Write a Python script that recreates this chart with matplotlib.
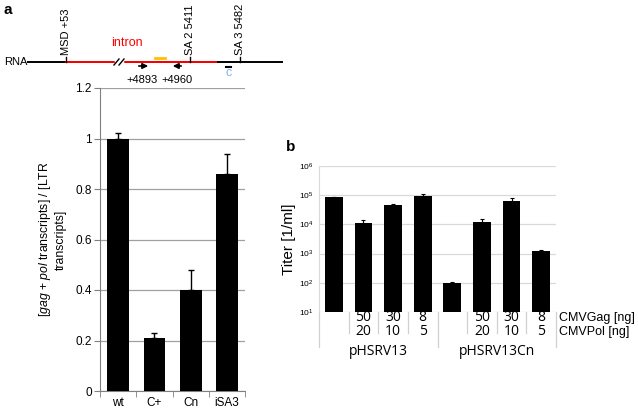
import numpy as np
import matplotlib
matplotlib.use('Agg')
import matplotlib.pyplot as plt
from matplotlib.transforms import blended_transform_factory

plt.rcParams['font.family'] = ['Liberation Sans', 'DejaVu Sans']
plt.rcParams['mathtext.fontset'] = 'custom'
plt.rcParams['mathtext.rm'] = 'Liberation Sans'
plt.rcParams['mathtext.it'] = 'Liberation Sans:italic'

# Panel a : ratio gag+pol / LTR transcripts
a_labels = ['wt', 'C+', 'Cn', 'iSA3']
a_values = [1.0, 0.21, 0.40, 0.86]
a_err = [0.02, 0.02, 0.08, 0.08]

# Panel b : titer (log scale)
b_values = [8.5e4, 1.15e4, 4.8e4, 9.5e4, 95, 1.25e4, 6.3e4, 1.2e3]
b_err = [5e3, 2.5e3, 2e3, 1.2e4, 10, 3e3, 1.7e4, 1.5e2]
b_gag = ['', '50', '30', '8', '', '50', '30', '8']
b_pol = ['', '20', '10', '5', '', '20', '10', '5']
b_groups = ['pHSRV13', 'pHSRV13Cn']

W, H = 638, 409
fig = plt.figure(figsize=(W / 100, H / 100), dpi=100)

# ---- schematic (pixel coordinates) ----
sch = fig.add_axes([0, 0, 1, 1], zorder=0)
sch.set_xlim(0, W)
sch.set_ylim(H, 0)
sch.axis('off')
y_rna = 62
sch.plot([28, 282], [y_rna, y_rna], color='black', lw=1.4)
sch.plot([66, 216], [y_rna, y_rna], color='#ff0000', lw=1.4)
sch.plot([116, 122], [y_rna, y_rna], color='white', lw=2.5)
for xb in (114, 119):
    sch.plot([xb, xb + 5], [y_rna + 3, y_rna - 3], color='black', lw=1)
for xt, lab in [(66, 'MSD +53'), (190, 'SA 2 5411'), (240, 'SA 3 5482')]:
    sch.plot([xt, xt], [y_rna, y_rna - 5], color='black', lw=1)
    sch.text(xt, y_rna - 7, lab, rotation=90, ha='center', va='bottom', fontsize=8)
sch.text(127, 43, 'intron', color='#ff0000', ha='center', va='center', fontsize=9)
sch.plot([155, 165], [58, 58], color='#ffc000', lw=2)
sch.annotate('', xy=(151, 66), xytext=(136, 66),
             arrowprops=dict(arrowstyle='-|>', color='black', lw=1.2, mutation_scale=8))
sch.annotate('', xy=(170, 66), xytext=(184, 66),
             arrowprops=dict(arrowstyle='-|>', color='black', lw=1.2, mutation_scale=8))
sch.text(142, 80, '+4893', ha='center', va='center', fontsize=8)
sch.text(177, 80, '+4960', ha='center', va='center', fontsize=8)
sch.plot([226, 231], [67, 67], color='black', lw=1.5)
sch.text(229, 73, 'c', color='#7fb2e5', ha='center', va='center', fontsize=9)
sch.text(16, y_rna, 'RNA', ha='center', va='center', fontsize=8)
sch.text(3, 10, 'a', fontweight='bold', ha='left', va='center', fontsize=11)
sch.text(286, 147, 'b', fontweight='bold', ha='left', va='center', fontsize=11)

# ---- panel a ----
axa = fig.add_axes([100 / W, 1 - 391 / H, 145 / W, 303 / H])
xa = np.arange(len(a_labels))
axa.bar(xa, a_values, width=0.6, color='black', zorder=3)
axa.errorbar(xa, a_values, yerr=[np.zeros(len(a_err)), a_err], fmt='none',
             ecolor='black', elinewidth=1, capsize=2.5, capthick=1, zorder=4)
axa.set_xlim(-0.5, len(a_labels) - 0.5)
axa.set_ylim(0, 1.2)
axa.set_yticks(np.arange(0, 1.21, 0.2))
axa.set_yticklabels(['0', '0.2', '0.4', '0.6', '0.8', '1', '1.2'], fontsize=8.5)
axa.set_xticks(xa)
axa.set_xticklabels(a_labels, fontsize=8.5)
axa.tick_params(axis='x', which='major', length=0, pad=4)
axa.set_xticks(np.arange(-0.5, len(a_labels), 1), minor=True)
axa.tick_params(axis='x', which='minor', length=4, color='#808080')
axa.tick_params(axis='y', length=4, color='#808080', pad=2)
axa.yaxis.grid(True, color='#a0a0a0', lw=0.9, zorder=0)
for s in ('top', 'right'):
    axa.spines[s].set_visible(False)
for s in ('left', 'bottom'):
    axa.spines[s].set_color('#808080')
axa.set_ylabel('[$\\it{gag}$ + $\\it{pol}$ transcripts] / [LTR\ntranscripts]',
               fontsize=8.8, labelpad=6)

# ---- panel b ----
axb = fig.add_axes([319 / W, 1 - 312 / H, 237 / W, 146 / H])
xb = np.arange(len(b_values))
axb.bar(xb, b_values, width=0.6, color='black', zorder=3, bottom=0)
axb.errorbar(xb, b_values, yerr=[np.zeros(len(b_err)), b_err], fmt='none',
             ecolor='black', elinewidth=0.8, capsize=1.5, capthick=0.8, zorder=4)
axb.set_yscale('log')
axb.set_ylim(10, 1e6)
axb.set_xlim(-0.5, len(b_values) - 0.5)
axb.set_yticks([10 ** k for k in range(1, 7)])
axb.set_yticklabels(['10$^{%d}$' % k for k in range(1, 7)], fontsize=6)
axb.yaxis.set_minor_locator(matplotlib.ticker.NullLocator())
axb.tick_params(axis='y', length=0, pad=4)
axb.set_xticks([])
axb.yaxis.grid(True, color='#d9d9d9', lw=0.9, zorder=0)
for s in ('top', 'right', 'bottom'):
    axb.spines[s].set_visible(False)
axb.spines['left'].set_color('#d9d9d9')
axb.set_ylabel('Titer [1/ml]', fontsize=11, labelpad=2)

tr = blended_transform_factory(axb.transData, axb.transAxes)
row1, row2, row3 = -0.04, -0.135, -0.27
for i in range(len(b_values)):
    axb.text(i, row1, b_gag[i], transform=tr, ha='center', va='center', fontsize=10,
             family=['Open Sans', 'DejaVu Sans'])
    axb.text(i, row2, b_pol[i], transform=tr, ha='center', va='center', fontsize=10,
             family=['Open Sans', 'DejaVu Sans'])
# separators between table columns
for i in range(len(b_values) + 1):
    edge = i - 0.5
    long_line = (i % 4 == 0)
    y_end = -0.24 if long_line else -0.145
    axb.plot([edge, edge], [0, y_end], transform=tr, color='#d0d0d0', lw=0.9,
             clip_on=False)
for g, name in enumerate(b_groups):
    axb.text(g * 4 + 1.5, row3, name, transform=tr, ha='center', va='center',
             fontsize=10, family=['Open Sans', 'DejaVu Sans'])
axb.text(len(b_values) - 0.4, row1, 'CMVGag [ng]', transform=tr, ha='left',
         va='center', fontsize=9)
axb.text(len(b_values) - 0.4, row2, 'CMVPol [ng]', transform=tr, ha='left',
         va='center', fontsize=9)

fig.savefig('out.png', dpi=100)
